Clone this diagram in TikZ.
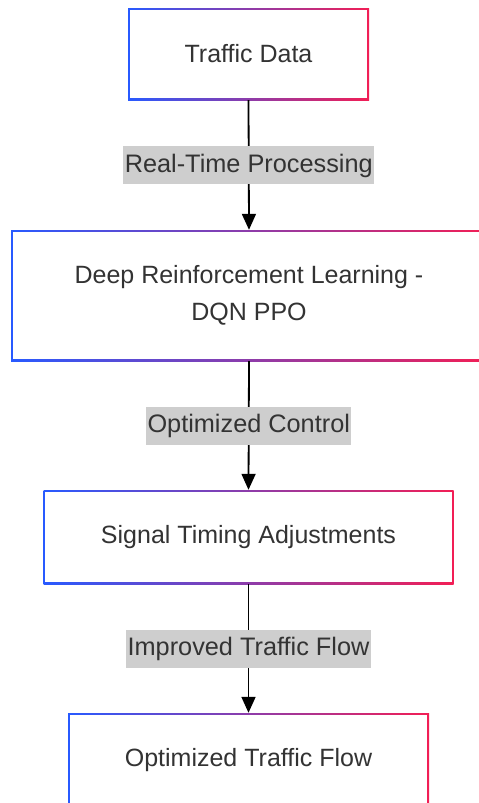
\documentclass[tikz,border=0pt]{standalone}
\usepackage{fontspec}
\setmainfont{Liberation Sans}
\usetikzlibrary{arrows.meta}
\definecolor{gblue}{RGB}{40,90,255}
\definecolor{gred}{RGB}{242,30,85}
\definecolor{txt}{RGB}{51,51,51}
\definecolor{lblbg}{RGB}{206,206,206}
\tikzset{
  gbox/.style={left color=gblue, right color=gred, draw=none, text=txt,
    align=center, inner sep=0pt,
    font=\fontsize{25}{37.5}\selectfont,
    path picture={\fill[white] ([shift={(1.8,1.8)}]path picture bounding box.north west) rectangle ([shift={(-1.8,-1.8)}]path picture bounding box.south east);}},
  conn/.style={line width=1.8pt, draw=black, -{Triangle[length=16pt,width=14pt]}},
  lbl/.style={fill=lblbg, text=txt, font=\fontsize{25.3}{30}\selectfont,
    inner xsep=1.5pt, inner ysep=0pt, minimum height=38pt, text height=19pt, text depth=5pt}
}
\begin{document}
\begin{tikzpicture}[x=1pt,y=-1pt]
\useasboundingbox (0,0) rectangle (479,803);
\node[gbox, minimum width=241pt, minimum height=92pt] (a) at (248.5,54) {Traffic Data};
\node[gbox, minimum width=476pt, minimum height=131pt] (b) at (249,295.5) {Deep Reinforcement Learning -\\DQN PPO};
\node[gbox, minimum width=410pt, minimum height=94pt] (c) at (248.5,537) {Signal Timing Adjustments};
\node[gbox, minimum width=361pt, minimum height=94pt] (d) at (248.5,760) {Optimized Traffic Flow};
\draw[conn] (a.south) -- node[lbl] (l1) {Real-Time Processing} (b.north);
\draw[conn] (b.south) -- node[lbl] (l2) {Optimized Control} (c.north);
\draw[conn] (c.south) -- node[lbl] (l3) {Improved Traffic Flow} (d.north);
\end{tikzpicture}
\end{document}
